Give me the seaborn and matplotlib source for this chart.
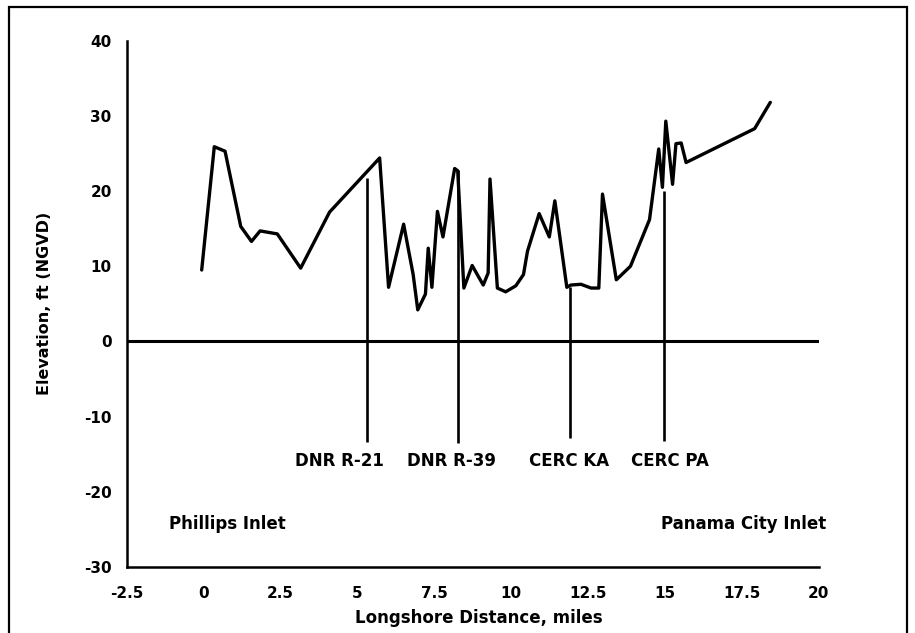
import matplotlib
matplotlib.use("Agg")
import matplotlib.pyplot as plt
from matplotlib.patches import Rectangle
import seaborn as sns
import pandas as pd

# ---- data ----
distance = [-0.07, 0.34, 0.69, 1.2, 1.55, 1.83, 2.39, 3.15, 4.09, 5.72,
            6.01, 6.5, 6.81, 6.96, 7.21, 7.3, 7.42, 7.6, 7.78, 8.16,
            8.26, 8.46, 8.73, 9.09, 9.25, 9.31, 9.55, 9.82, 10.15, 10.4,
            10.53, 10.91, 11.24, 11.42, 11.81, 11.94, 12.27, 12.6, 12.85, 12.97,
            13.42, 13.88, 14.5, 14.8, 14.92, 15.03, 15.25, 15.36, 15.53, 15.69,
            17.92, 18.43]
elevation = [9.5, 25.9, 25.3, 15.3, 13.3, 14.7, 14.3, 9.75, 17.2, 24.4,
             7.2, 15.6, 8.9, 4.2, 6.3, 12.4, 7.2, 17.3, 13.9, 23.0,
             22.7, 7.1, 10.1, 7.5, 9.1, 21.6, 7.1, 6.6, 7.4, 8.9,
             12.0, 17.0, 13.9, 18.7, 7.2, 7.5, 7.6, 7.1, 7.1, 19.6,
             8.2, 10.0, 16.2, 25.6, 20.5, 29.3, 20.9, 26.3, 26.4, 23.8,
             28.3, 31.8]

profile_names = ["DNR R-21", "DNR R-39", "CERC KA", "CERC PA"]
profile_x = [5.31, 8.28, 11.92, 14.97]
profile_top = [21.7, 22.8, 7.3, 20.0]
profile_bottom = [-13.4, -13.5, -12.9, -13.3]
profile_label_x = [4.4, 8.06, 11.88, 15.18]
profile_label_y = -16.6

inlet_names = ["Phillips Inlet", "Panama City Inlet"]
inlet_x = [0.76, 17.55]
inlet_y = -25.0

x_ticks = [-2.5, 0, 2.5, 5, 7.5, 10, 12.5, 15, 17.5, 20]
x_ticklabels = ["-2.5", "0", "2.5", "5", "7.5", "10", "12.5", "15", "17.5", "20"]
y_ticks = [-30, -20, -10, 0, 10, 20, 30, 40]
y_ticklabels = ["-30", "-20", "-10", "0", "10", "20", "30", "40"]

# ---- style ----
sns.set_style("white")
plt.rcParams["font.family"] = ["DejaVu Sans"]
plt.rcParams["font.weight"] = "bold"
plt.rcParams["text.color"] = "black"
plt.rcParams["axes.labelcolor"] = "black"
plt.rcParams["xtick.color"] = "black"
plt.rcParams["ytick.color"] = "black"
plt.rcParams["axes.unicode_minus"] = False

fig = plt.figure(figsize=(9.15, 6.33), dpi=100)
ax = fig.add_axes([0.1388, 0.1043, 0.7558, 0.8314])

df = pd.DataFrame({"Distance": distance, "Elevation": elevation})
sns.lineplot(data=df, x="Distance", y="Elevation", ax=ax, color="black",
             linewidth=2.4, estimator=None, sort=False)

ax.axhline(0, color="black", linewidth=2.2)
ax.vlines(profile_x, profile_bottom, profile_top, color="black", linewidth=1.9)

for name, lx in zip(profile_names, profile_label_x):
    ax.text(lx, profile_label_y, name, ha="center", va="baseline",
            fontsize=12, fontweight="bold", color="black")
for name, lx in zip(inlet_names, inlet_x):
    ax.text(lx, inlet_y, name, ha="center", va="baseline",
            fontsize=12, fontweight="bold", color="black")

ax.set_xlim(-2.5, 20)
ax.set_ylim(-30, 40)
ax.set_xticks(x_ticks)
ax.set_xticklabels(x_ticklabels)
ax.set_yticks(y_ticks)
ax.set_yticklabels(y_ticklabels)

for s in ["top", "right"]:
    ax.spines[s].set_visible(False)
for s in ["left", "bottom"]:
    ax.spines[s].set_linewidth(1.8)
    ax.spines[s].set_color("black")

ax.tick_params(axis="x", direction="in", length=4, width=1.6, pad=14,
               labelsize=11, colors="black")
ax.tick_params(axis="y", direction="in", length=5, width=1.6, pad=11,
               labelsize=11, colors="black")
for lab in ax.get_xticklabels() + ax.get_yticklabels():
    lab.set_fontweight("bold")

ax.set_xlabel("Longshore Distance, miles", fontsize=12, fontweight="bold", color="black")
ax.set_ylabel("Elevation, ft (NGVD)", fontsize=11.5, fontweight="bold", color="black")
ax.xaxis.set_label_coords(0.509, -0.08)
ax.yaxis.set_label_coords(-0.119, 0.5)
ax.yaxis.label.set_va("center")

# page frame
fig.add_artist(Rectangle((9 / 915, -0.05), (907 - 9) / 915, 1.05 - 7 / 633,
                         transform=fig.transFigure, fill=False,
                         edgecolor="black", linewidth=1.6))

fig.savefig("out.png", dpi=100, facecolor="white")
